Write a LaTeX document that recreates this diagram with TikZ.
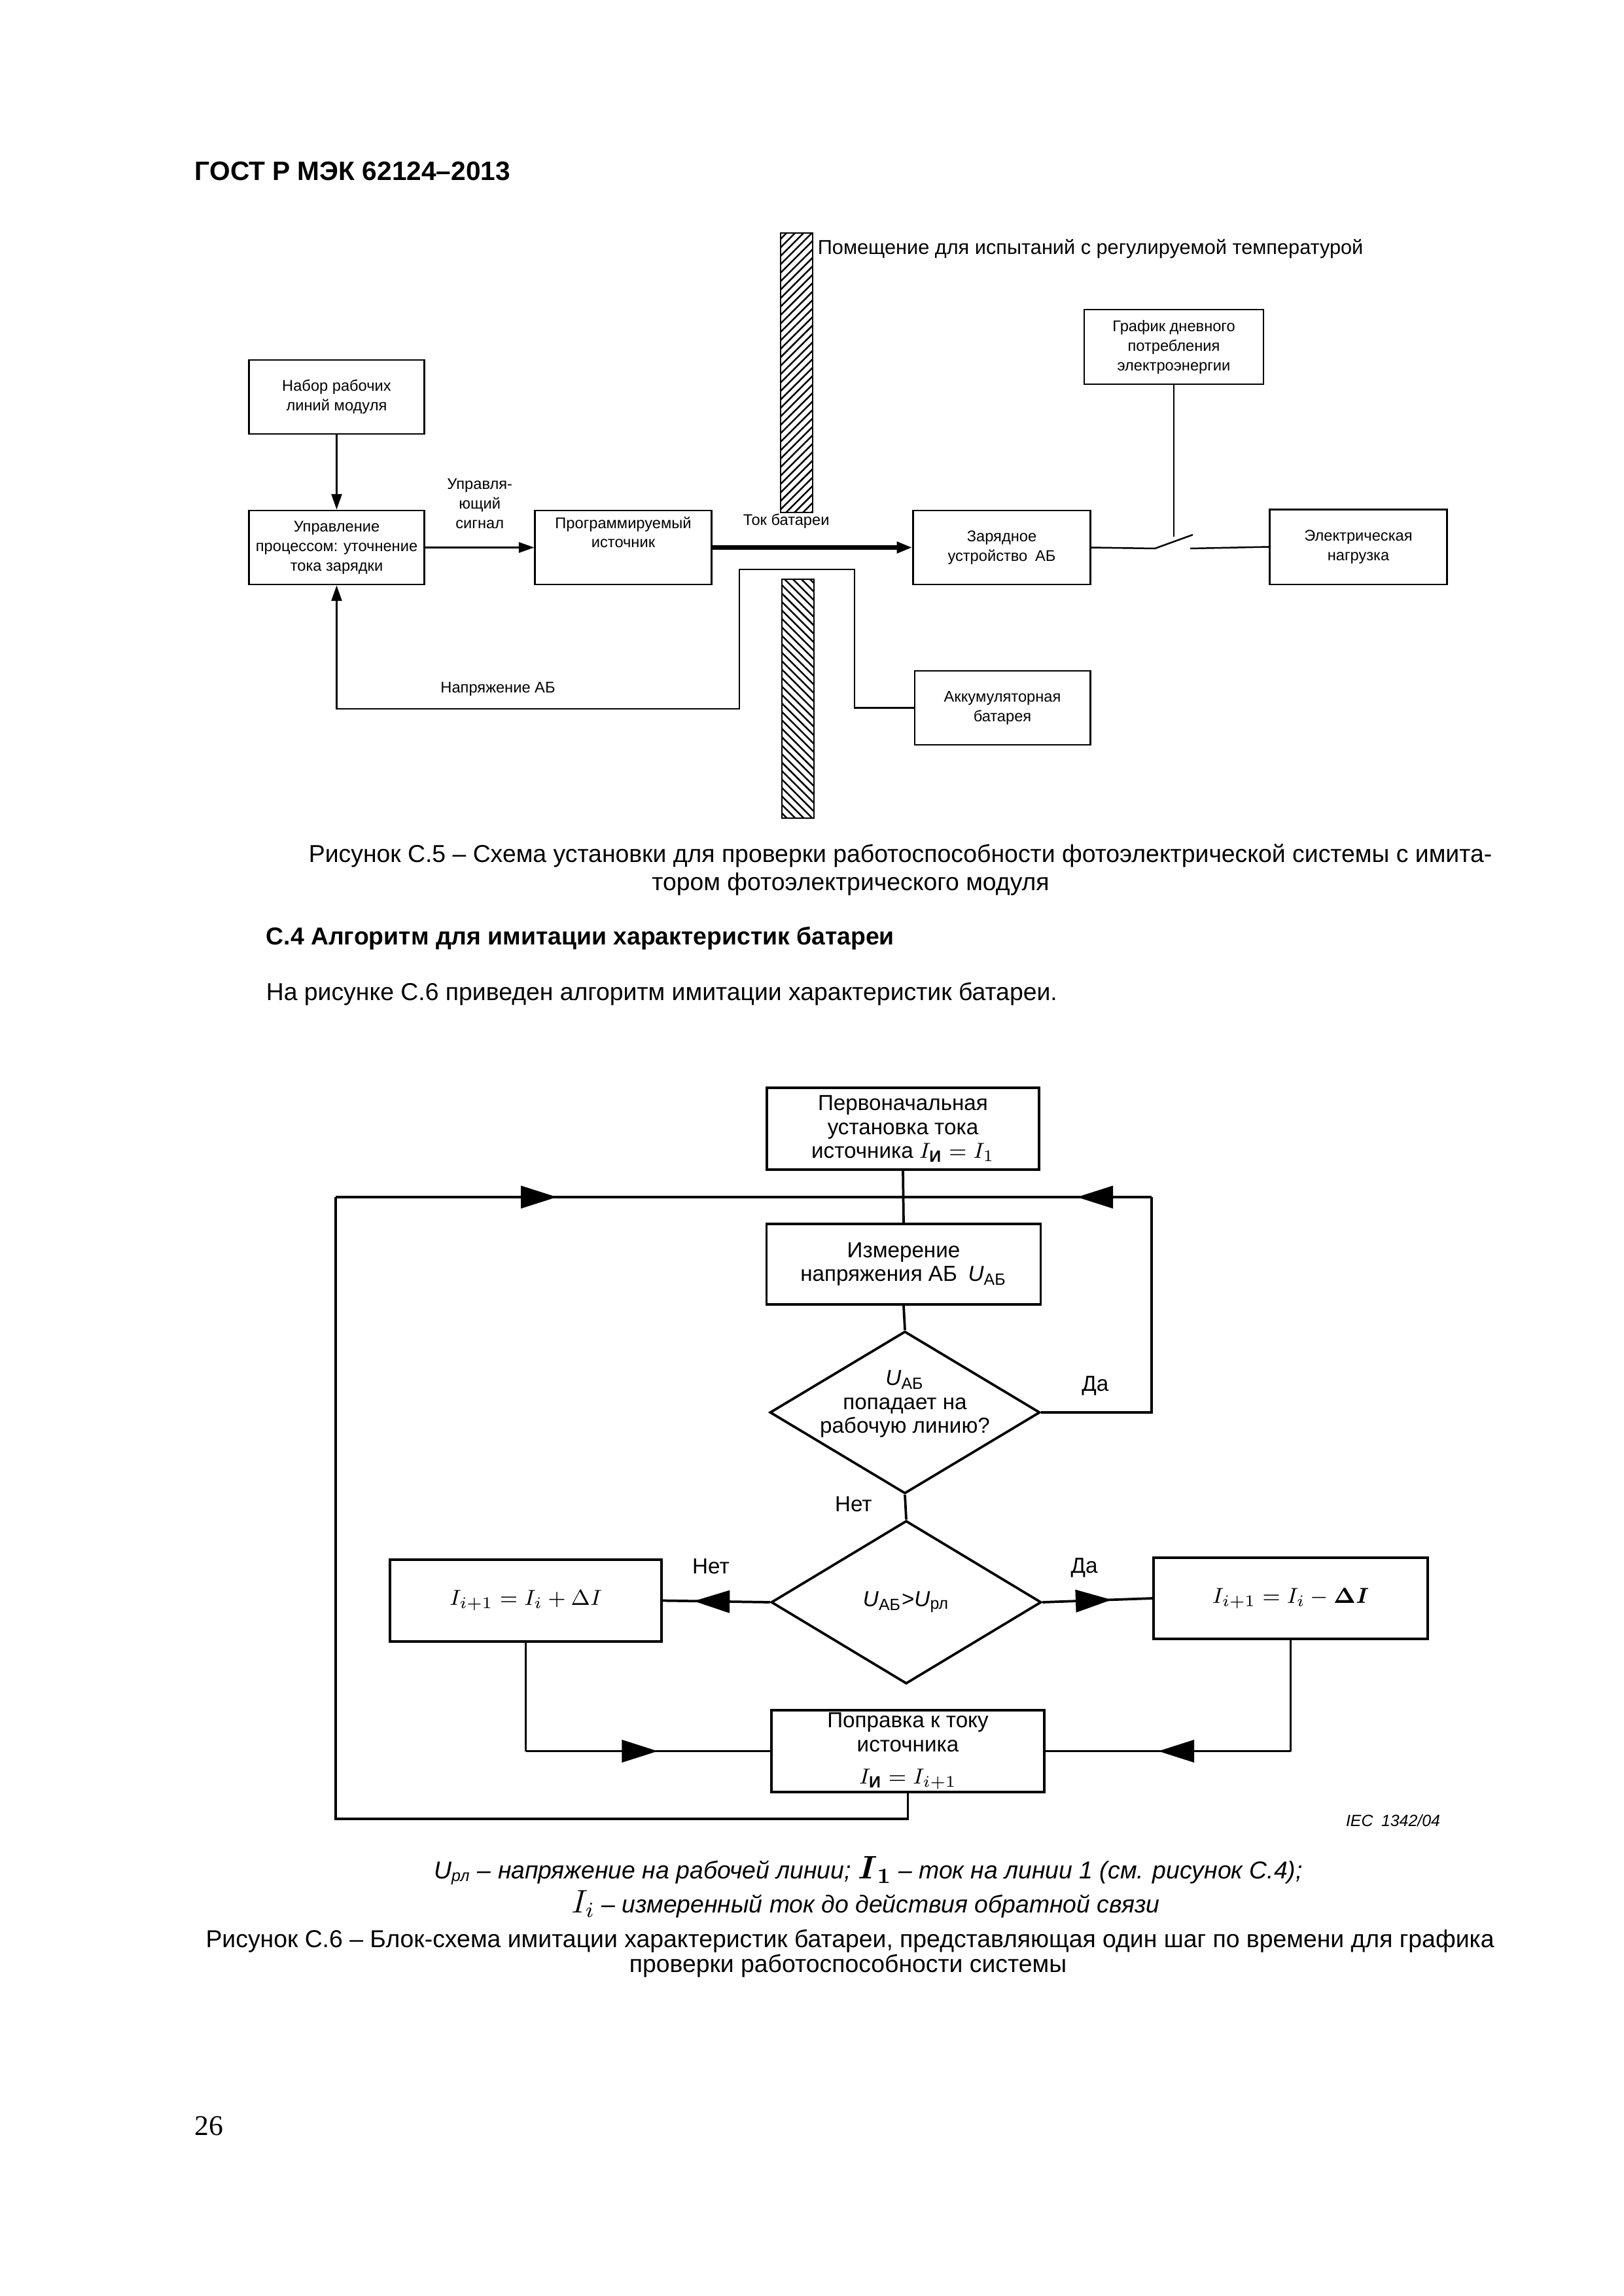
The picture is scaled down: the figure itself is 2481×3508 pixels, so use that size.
\documentclass[tikz,border=0pt]{standalone}
\usepackage{fontspec}
\usepackage{amsmath}
\setmainfont{Liberation Sans}
\newfontfamily\pagenumfont{Liberation Serif}
\usetikzlibrary{shapes.geometric,arrows.meta,patterns.meta,decorations.markings}

\newcommand{\schemefont}{\fontsize{5.7}{7.2}\selectfont}
\newcommand{\roomfont}{\fontsize{7.4}{8.8}\selectfont}
\newcommand{\flowfont}{\fontsize{8}{8.8}\selectfont}
\newcommand{\captfont}{\fontsize{9}{10.8}\selectfont}

\tikzset{
  blk/.style={draw, line width=0.7pt, inner sep=0pt, align=center, font=\schemefont,
    minimum width=2.27cm, minimum height=0.957cm},
  wire/.style={line width=0.6pt},
  sarrow/.style={wire, -{Triangle[length=0.2cm, width=0.135cm]}},
  wall/.style={draw, line width=0.5pt},
  fblk/.style={draw, line width=0.9pt, inner sep=0pt, align=center, font=\flowfont,
    minimum width=3.53cm, minimum height=1.058cm},
  fdec/.style={draw, diamond, line width=0.9pt, inner sep=0pt,
    minimum width=3.496cm, minimum height=2.1cm},
  fline/.style={line width=0.9pt},
  farrow/.style={fline, decoration={markings, mark=at position #1 with
    {\arrow{Triangle[length=0.466cm, width=0.288cm]}}}, postaction={decorate}},
  flabel/.style={font=\flowfont},
  capt/.style={font=\captfont, inner sep=0pt, anchor=base},
}

\begin{document}
\begin{tikzpicture}[x=0.008465cm, y=-0.008465cm]
  \useasboundingbox (0,0) rectangle (2481,3508);

  \node[font=\bfseries\fontsize{9.8}{12}\selectfont, inner sep=0pt, anchor=base west] (hdr) at (297,275) {ГОСТ Р МЭК 62124–2013};

  % test chamber walls
  \path[wall, pattern={Lines[angle=45, distance=2.2pt, line width=0.6pt]}] (1193,356) rectangle (1242,783);
  \path[wall, pattern={Lines[angle=-45, distance=2.2pt, line width=0.6pt]}] (1195,885) rectangle (1244,1250);
  \node[font=\roomfont, inner sep=0pt, anchor=west] (room) at (1249,380) {Помещение для испытаний с регулируемой температурой};

  \node[blk] (nabor) at (514.5,606.5) {Набор рабочих\\линий модуля};
  \node[blk] (upr) at (514.5,836.5) {Управление\\процессом: уточнение\\тока зарядки};
  \node[blk, minimum width=2.28cm] (prog) at (952.5,836.5) {Программируемый\\источник\\[4pt]};
  \node[blk, minimum width=2.29cm] (zar) at (1531,836.5) {Зарядное\\устройство\enspace АБ};
  \node[blk, minimum width=2.29cm, minimum height=0.973cm] (nagr) at (2076,835.5) {Электрическая\\нагрузка};
  \node[blk, minimum width=2.32cm, minimum height=0.965cm] (grafik) at (1794,530) {График дневного\\потребления\\электроэнергии};
  \node[blk] (akk) at (1532,1081.5) {Аккумуляторная\\батарея};

  \coordinate (swA) at (1765,838);
  \coordinate (swB) at (1823,817);
  \coordinate (swC) at (1819,838);
  \coordinate (vA) at (1306,870);
  \coordinate (vB) at (1130,870);
  \coordinate (vC) at (1130,1083);
  \coordinate (vD) at (upr.south |- vC);

  \draw[sarrow] (nabor) -- (upr);
  \draw[sarrow] (upr) -- (prog)
    node[midway, above=0.12cm, font=\schemefont, align=center] (sig) {Управля-\\ющий\\сигнал};
  \draw[line width=1.6pt, -{Triangle[length=0.2cm, width=0.14cm]}] (prog) -- (zar)
    node[pos=0.37, above=0.1cm, font=\schemefont] (tok) {Ток батареи};
  \draw[wire] (zar.east) -- (swA) -- (swB);
  \draw[wire] (swC) -- (nagr.west);
  \draw[wire] (grafik.south) -- (grafik.south |- 0,820);
  \draw[sarrow] (akk.west) -| (vA) -- (vB) -- (vC) -- (vD) -- (upr.south);
  \node[font=\schemefont] (napr) at (761,1053) {Напряжение АБ};

  \node[capt] (cap5a) at (1376,1317) {Рисунок С.5 – Схема установки для проверки работоспособности фотоэлектрической системы с имита-};
  \node[capt] (cap5b) at (1300,1360) {тором фотоэлектрического модуля};
  \node[capt, anchor=base west, font=\bfseries\captfont] (sec) at (406,1443) {С.4 Алгоритм для имитации характеристик батареи};
  \node[capt, anchor=base west] (para) at (406,1528) {На рисунке С.6 приведен алгоритм имитации характеристик батареи.};

  % flow chart
  \node[fblk, minimum width=3.52cm] (init) at (1380,1724.5) {Первоначальная\\установка тока\\источника $I_{\text{\bfseries И}} = I_1$};
  \node[fblk, minimum width=3.55cm, minimum height=1.04cm] (meas) at (1381,1931.5) {Измерение\\напряжения АБ\enspace\textit{U}\textsubscript{АБ}};
  \node[fdec, label={[align=center, font=\flowfont, yshift=0.11cm]center:{\textit{U}\textsubscript{АБ}\\попадает на\\рабочую линию?}}] (d1) at (1383,2158) {};
  \node[fdec, minimum height=2.11cm, label={[font=\flowfont]center:{\textit{U}\textsubscript{АБ}>\textit{U}\textsubscript{рл}}}] (d2) at (1385,2448) {};
  \node[fblk, minimum width=3.51cm] (lbox) at (803.5,2445.5) {$I_{i+1} = I_i + \Delta I$};
  \node[fblk, minimum width=3.55cm, minimum height=1.05cm] (rbox) at (1972.5,2442) {$I_{i+1} = I_i - \boldsymbol{\Delta I}$};
  \node[fblk] (corr) at (1387.5,2675.5) {Поправка к току\\источника\\[3pt]$I_{\text{\bfseries И}} = I_{i+1}$};

  \coordinate (lpT) at (513,1829);
  \coordinate (lpB) at (513,2779);
  \coordinate (yesT) at (1760,1829);
  \coordinate (jn) at (init.south |- lpT);
  \coordinate (lc) at (lbox.south |- corr.west);
  \coordinate (rc) at (rbox.south |- corr.east);

  \draw[fline] (init.south) -- (meas.north);
  \draw[fline] (meas.south) -- (d1.north);
  \draw[fline] (d1.east) -| (yesT) node[pos=0.245, yshift=0.34cm, flabel] (yes1) {Да};
  \draw[farrow=0.3] (yesT) -- (jn);
  \draw[fline] (d1.south) -- (d2.north) node[pos=0.37, left=0.3cm, flabel] (no1) {Нет};
  \draw[farrow=0.71] (d2.west) -- (lbox.east) node[pos=0.55, yshift=0.45cm, flabel] (no2) {Нет};
  \draw[farrow=0.63] (d2.east) -- (rbox.west) node[pos=0.38, yshift=0.43cm, flabel] (yes2) {Да};
  \draw[fline] (lbox.south) -- (lc);
  \draw[farrow=0.54] (lc) -- (corr.west);
  \draw[fline] (rbox.south) -- (rc);
  \draw[farrow=0.54] (rc) -- (corr.east);
  \draw[fline] (corr.south) |- (lpB) -- (lpT);
  \draw[farrow=0.39] (lpT) -- (jn);

  \node[font=\itshape\fontsize{6}{7}\selectfont] (iec) at (2129,2782) {IEC\enspace 1342/04};

  \node[capt, font=\itshape\captfont] (note1) at (1327,2870) {\textit{U}\textsubscript{\textit{рл}} – напряжение на рабочей линии; {\large$\boldsymbol{I}_{\boldsymbol{1}}$} – ток на линии 1 (см. рисунок С.4);};
  \node[capt, font=\itshape\captfont] (note2) at (1323,2922) {{\large$I_{i}$} – измеренный ток до действия обратной связи};
  \node[capt] (cap6a) at (1299,2975) {Рисунок С.6 – Блок-схема имитации характеристик батареи, представляющая один шаг по времени для графика};
  \node[capt] (cap6b) at (1296,3013) {проверки работоспособности системы};

  \node[font=\pagenumfont\fontsize{10.5}{12}\selectfont, inner sep=0pt, anchor=base west] (pg) at (297,3262) {26};
\end{tikzpicture}
\end{document}
